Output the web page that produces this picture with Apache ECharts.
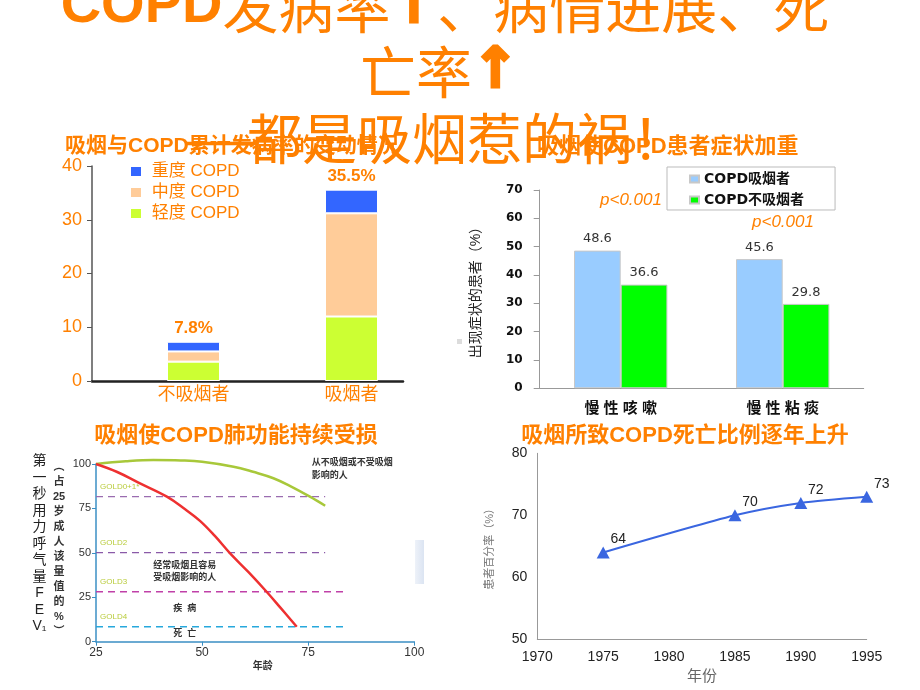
<!DOCTYPE html>
<html><head><meta charset="utf-8">
<script src="https://cdn.jsdelivr.net/npm/echarts@6/dist/echarts.min.js"></script>
<style>html,body{margin:0;padding:0;background:#fff}#c{width:920px;height:690px}</style>
</head><body><div id="c"></div>
<script>
// ---------- Chart 1: 吸烟与COPD累计发病率 ----------
const c1Categories = ['不吸烟者', '吸烟者'];
const c1Mild = [3.6, 12.0];
const c1Moderate = [1.9, 19.2];
const c1Severe = [1.8, 4.4];
const c1Totals = ['7.8%', '35.5%'];
const c1SeriesNames = ['重度 COPD', '中度 COPD', '轻度 COPD'];

// ---------- Chart 2: 吸烟使COPD患者症状加重 ----------
const c2Categories = ['慢性咳嗽', '慢性粘痰'];
const c2Smokers = [48.6, 45.6];
const c2NonSmokers = [36.6, 29.8];
const c2SeriesNames = ['COPD吸烟者', 'COPD不吸烟者'];
const c2PValues = ['p<0.001', 'p<0.001'];

// ---------- Chart 3: 吸烟使COPD肺功能持续受损 ----------
const c3NeverAge = [25, 32, 38.5, 45, 50, 57.4, 62, 66.8, 71, 75.4, 79];
const c3NeverFev = [100, 101.5, 102.2, 102, 101.3, 98.5, 95.6, 92, 87.3, 81.6, 76.5];
const c3SmokerAge = [25, 30, 35, 41.7, 46, 49.5, 53, 56.6, 61, 65.2, 68.5, 72.3];
const c3SmokerFev = [100, 95.5, 89.5, 81.6, 74.5, 68, 59.5, 49.7, 39, 28.1, 19, 8.4];
const c3GoldNames = ['GOLD0+1*', 'GOLD2', 'GOLD3', 'GOLD4'];
const c3GoldLevels = [81.6, 50.1, 28.1, 8.4];
const c3GoldEnds = [79, 79, 84, 84];
const c3GoldColors = ['#9a6cb0', '#8a5aa8', '#c040a8', '#27a8dc'];

// ---------- Chart 4: 吸烟所致COPD死亡比例逐年上升 ----------
const c4Years = [1975, 1985, 1990, 1995];
const c4Rates = [64, 70, 72, 73];

const ORANGE = '#FF8000';
const FF = "'Liberation Sans', 'Noto Sans CJK SC', sans-serif";
const FFD = "'DejaVu Sans', 'Noto Sans CJK SC', sans-serif";

const chart = echarts.init(document.getElementById('c'), null, {renderer: 'canvas'});

function txt(text, x, y, o) {
  o = o || {};
  return {
    type: 'text', x: x, y: y, z: o.z || 10, silent: true,
    style: Object.assign({
      text: text, fill: o.fill || '#333', fontSize: o.fontSize || 12,
      fontFamily: o.fontFamily || FF, fontWeight: o.fontWeight || 'normal',
      fontStyle: o.fontStyle || 'normal',
      align: o.align || 'left', verticalAlign: o.verticalAlign || 'middle',
      lineHeight: o.lineHeight
    }, o.extra || {})
  };
}

const arrowStyle = {fontFamily: "'DejaVu Sans', sans-serif", fontWeight: 'bold', fontSize: 56, fill: ORANGE, stroke: ORANGE, lineWidth: 3};

const baseGraphics = [
  // chart titles
  txt('吸烟与COPD累计发病率的变动情况', 65, 146, {fill: ORANGE, fontSize: 21, fontWeight: 'bold', z: 10}),
  txt('吸烟使COPD患者症状加重', 537, 147, {fill: ORANGE, fontSize: 22, fontWeight: 'bold', z: 10}),
  txt('吸烟使COPD肺功能持续受损', 236, 436, {fill: ORANGE, fontSize: 22, fontWeight: 'bold', align: 'center'}),
  txt('吸烟所致COPD死亡比例逐年上升', 685, 436, {fill: ORANGE, fontSize: 22, fontWeight: 'bold', align: 'center'}),
  // big slide title
  {type: 'line', z: 20, silent: true, shape: {x1: 187, y1: 143.5, x2: 252, y2: 143.5}, style: {stroke: ORANGE, lineWidth: 3.5}},
  txt('{b|COPD}发病率{ar|↑}、病情进展、死', 445, 7, {fill: ORANGE, fontSize: 56, fontFamily: "'Noto Sans CJK SC', sans-serif", align: 'center', z: 20,
    extra: {rich: {b: {fontFamily: "'Liberation Sans', sans-serif", fontWeight: 'bold', fontSize: 56, fill: ORANGE}, ar: arrowStyle}}}),
  txt('亡率{ar|↑}', 439.5, 72, {fill: ORANGE, fontSize: 56, fontFamily: "'Noto Sans CJK SC', sans-serif", align: 'center', z: 20,
    extra: {rich: {ar: arrowStyle}}}),
  txt('都是吸烟惹的祸！', 467, 138, {fill: ORANGE, fontSize: 55, fontFamily: "'Noto Sans CJK SC', sans-serif", align: 'center', z: 20}),
  // chart 2 p-values
  txt(c2PValues[0], 600, 200, {fill: ORANGE, fontSize: 17, fontStyle: 'italic'}),
  txt(c2PValues[1], 752, 222, {fill: ORANGE, fontSize: 17, fontStyle: 'italic'}),
  {type: 'rect', silent: true, shape: {x: 457, y: 339, width: 5, height: 5}, style: {fill: '#dcdcdc'}},
  // chart 3 annotations
  txt('从不吸烟或不受吸烟', 311.7, 463, {fontSize: 9, fill: '#333', fontWeight: 'bold'}),
  txt('影响的人', 311.7, 475.5, {fontSize: 9, fill: '#333', fontWeight: 'bold'}),
  txt('经常吸烟且容易', 153.3, 565.5, {fontSize: 9, fill: '#333', fontWeight: 'bold'}),
  txt('受吸烟影响的人', 153.3, 577.5, {fontSize: 9, fill: '#333', fontWeight: 'bold'}),
  txt('疾  病', 173.3, 609, {fontSize: 9, fill: '#333', fontWeight: 'bold'}),
  txt('死  亡', 173.3, 634, {fontSize: 9, fill: '#333', fontWeight: 'bold'}),
  txt('第\n一\n秒\n用\n力\n呼\n气\n量\nF\nE\nV₁', 39.5, 453, {fontSize: 14, fill: '#222', align: 'center', verticalAlign: 'top', lineHeight: 16.5}),
  txt('︵\n占\n25\n岁\n成\n人\n该\n量\n值\n的\n%\n︶', 59, 459, {fontSize: 11, fill: '#333', fontWeight: 'bold', align: 'center', verticalAlign: 'top', lineHeight: 15}),
  {type: 'rect', silent: true, shape: {x: 415, y: 540, width: 9, height: 44},
   style: {fill: new echarts.graphic.LinearGradient(0, 0, 1, 0, [{offset: 0, color: '#eef2f9'}, {offset: 1, color: '#dbe4f2'}])}}
];

const goldSeries = c3GoldNames.map((n, i) => ({
  type: 'line', name: n, xAxisIndex: 3, yAxisIndex: 3, symbol: 'none', silent: true,
  lineStyle: {color: c3GoldColors[i], width: 1.3, type: [7, 5]},
  data: [[25, c3GoldLevels[i]], [c3GoldEnds[i], c3GoldLevels[i]]]
}));

const option = {
  animation: false,
  backgroundColor: '#fff',
  textStyle: {fontFamily: FF},
  grid: [
    {left: 92, top: 166, width: 311, height: 215},
    {left: 114.5, top: 166, width: 316, height: 215},
    {left: 539.7, top: 190, width: 324, height: 198.3},
    {left: 96, top: 464, width: 318.3, height: 177.7},
    {left: 537.3, top: 453.3, width: 329.4, height: 186}
  ],
  xAxis: [
    {gridIndex: 0, type: 'category', data: ['', ''], axisLine: {lineStyle: {color: '#222', width: 2.5}}, axisTick: {show: false}, axisLabel: {show: false}},
    {gridIndex: 1, type: 'category', data: c1Categories, axisLine: {show: false}, axisTick: {show: false},
     axisLabel: {color: ORANGE, fontSize: 18, margin: 5, fontFamily: FF}},
    {gridIndex: 2, type: 'category', data: c2Categories, axisLine: {lineStyle: {color: '#999'}},
     axisTick: {inside: true, length: 4, lineStyle: {color: '#888'}},
     axisLabel: {color: '#111', fontSize: 15, fontWeight: 'bold', margin: 13, formatter: v => v.split('').join(' ')}},
    {gridIndex: 3, type: 'value', min: 25, max: 100, interval: 25, splitLine: {show: false},
     axisLine: {show: true, lineStyle: {color: '#3b8fc4', width: 1.5}}, axisTick: {show: true, length: 4, lineStyle: {color: '#3b8fc4'}},
     axisLabel: {color: '#333', fontSize: 12, margin: 5},
     name: '年龄', nameLocation: 'middle', nameGap: 20, nameTextStyle: {fontSize: 10, fontWeight: 'bold', color: '#333', padding: [0, 0, 0, 15]}},
    {gridIndex: 4, type: 'value', min: 1970, max: 1995, interval: 5, splitLine: {show: false},
     axisLine: {show: true, lineStyle: {color: '#999'}}, axisTick: {show: false},
     axisLabel: {color: '#222', fontSize: 14, margin: 11, formatter: v => String(v)},
     name: '年份', nameLocation: 'middle', nameGap: 30, nameTextStyle: {fontSize: 15, color: '#666'}}
  ],
  yAxis: [
    {gridIndex: 0, type: 'value', min: 0, max: 40, interval: 10, splitLine: {show: false},
     axisLine: {show: true, lineStyle: {color: '#555', width: 1.5}}, axisTick: {show: true, length: 5, lineStyle: {color: '#555'}},
     axisLabel: {color: ORANGE, fontSize: 18, margin: 10}},
    {gridIndex: 1, type: 'value', min: 0, max: 40, show: false},
    {gridIndex: 2, type: 'value', min: 0, max: 70, interval: 10, splitLine: {show: false},
     axisLine: {show: true, lineStyle: {color: '#999'}}, axisTick: {show: true, length: 6, lineStyle: {color: '#999'}},
     axisLabel: {color: '#111', fontSize: 12, fontWeight: 'bold', fontFamily: FFD, margin: 17},
     name: '出现症状的患者（%）', nameLocation: 'middle', nameRotate: 90, nameGap: 57,
     nameTextStyle: {fontSize: 14, color: '#222'}},
    {gridIndex: 3, type: 'value', min: 0, max: 100, interval: 25, splitLine: {show: false},
     axisLine: {show: true, lineStyle: {color: '#3b8fc4', width: 1.5}}, axisTick: {show: true, length: 4, lineStyle: {color: '#3b8fc4'}},
     axisLabel: {color: '#333', fontSize: 11, margin: 5}},
    {gridIndex: 4, type: 'value', min: 50, max: 80, interval: 10, splitLine: {show: false},
     axisLine: {show: true, lineStyle: {color: '#999'}}, axisTick: {show: false},
     axisLabel: {color: '#222', fontSize: 14, margin: 10},
     name: '患者百分率（%）', nameLocation: 'middle', nameRotate: 90, nameGap: 42,
     nameTextStyle: {fontSize: 11, color: '#777'}}
  ],
  legend: [
    {data: c1SeriesNames, orient: 'vertical', left: 129, top: 163, itemWidth: 12, itemHeight: 11, itemGap: 4,
     icon: 'rect', padding: 0, selectedMode: false, formatter: ' {name}',
     textStyle: {color: ORANGE, fontSize: 17, fontFamily: FF}},
    {data: c2SeriesNames, orient: 'vertical', left: 667, top: 167, itemWidth: 9, itemHeight: 7, itemGap: 7,
     icon: 'rect', selectedMode: false, borderColor: '#bbb', borderWidth: 1, backgroundColor: '#fff',
     padding: [5, 31, 3, 22],
     textStyle: {color: '#111', fontSize: 14, fontWeight: 'bold', fontFamily: FFD}}
  ],
  series: [
    {type: 'bar', name: c1SeriesNames[2], xAxisIndex: 1, yAxisIndex: 1, stack: 'c1', barWidth: 53,
     itemStyle: {color: '#CCFF33', borderColor: '#fff', borderWidth: 1}, data: c1Mild},
    {type: 'bar', name: c1SeriesNames[1], xAxisIndex: 1, yAxisIndex: 1, stack: 'c1', barWidth: 53,
     itemStyle: {color: '#FFCC99', borderColor: '#fff', borderWidth: 1}, data: c1Moderate},
    {type: 'bar', name: c1SeriesNames[0], xAxisIndex: 1, yAxisIndex: 1, stack: 'c1', barWidth: 53,
     itemStyle: {color: '#3366FF', borderColor: '#fff', borderWidth: 1}, data: c1Severe,
     label: {show: true, position: 'top', distance: 5, formatter: p => c1Totals[p.dataIndex],
             color: ORANGE, fontSize: 17, fontWeight: 'bold', fontFamily: FF}},
    {type: 'bar', name: c2SeriesNames[0], xAxisIndex: 2, yAxisIndex: 2, barWidth: 46.7, barGap: '0%',
     itemStyle: {color: '#99CCFF', borderColor: '#c8c8c8', borderWidth: 1}, data: c2Smokers,
     label: {show: true, position: 'top', distance: 5, color: '#333', fontSize: 13, fontFamily: FFD}},
    {type: 'bar', name: c2SeriesNames[1], xAxisIndex: 2, yAxisIndex: 2, barWidth: 46.7, barGap: '0%',
     itemStyle: {color: '#00FF00', borderColor: '#c8c8c8', borderWidth: 1}, data: c2NonSmokers,
     label: {show: true, position: 'top', distance: 5, color: '#333', fontSize: 13, fontFamily: FFD}},
    ...goldSeries,
    {type: 'line', name: '从不吸烟', xAxisIndex: 3, yAxisIndex: 3, smooth: 0.4, symbol: 'none', clip: false,
     lineStyle: {color: '#a8c83a', width: 2.5}, data: c3NeverAge.map((a, i) => [a, c3NeverFev[i]])},
    {type: 'line', name: '经常吸烟', xAxisIndex: 3, yAxisIndex: 3, smooth: 0.4, symbol: 'none', clip: false,
     lineStyle: {color: '#ee3030', width: 2.5}, data: c3SmokerAge.map((a, i) => [a, c3SmokerFev[i]])},
    {type: 'line', name: '死亡比例', xAxisIndex: 4, yAxisIndex: 4, smooth: 0.25,
     symbol: 'triangle', symbolSize: [13, 12], itemStyle: {color: '#3a66e0'}, lineStyle: {color: '#3a66e0', width: 2},
     label: {show: true, position: 'top', offset: [15, 5], color: '#222', fontSize: 14, fontFamily: FF},
     data: c4Years.map((y, i) => [y, c4Rates[i]])}
  ],
  graphic: {elements: baseGraphics}
};

chart.setOption(option);

// GOLD labels placed through the chart's own scale
const goldLabels = c3GoldNames.map((n, i) => {
  const p = chart.convertToPixel({gridIndex: 3}, [25, c3GoldLevels[i]]);
  return txt(n, p[0] + 4, p[1] - 10, {fontSize: 8, fill: '#b9cc3c'});
});
chart.setOption({graphic: {elements: baseGraphics.concat(goldLabels)}});
</script>
</body></html>
